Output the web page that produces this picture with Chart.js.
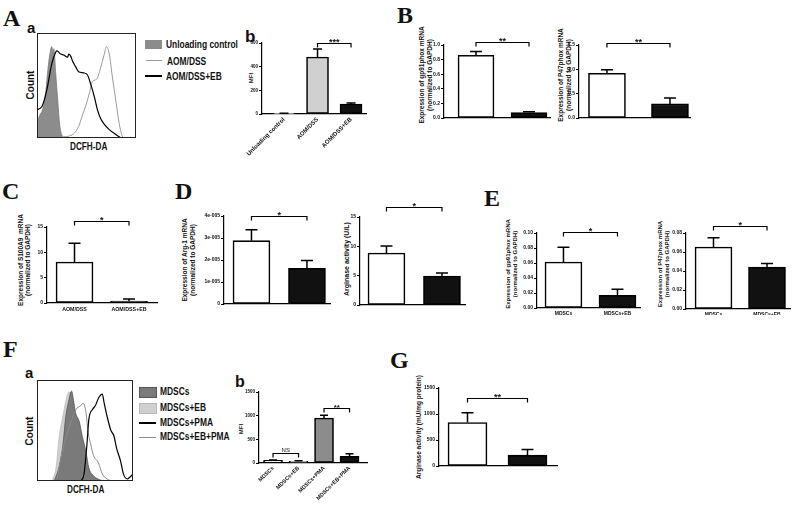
<!DOCTYPE html>
<html><head><meta charset="utf-8">
<script src="https://cdn.jsdelivr.net/npm/chart.js@4.4.0/dist/chart.umd.min.js"></script>
<style>
html,body{margin:0;padding:0;background:#fff}
#fig{position:relative;width:800px;height:505px;background:#fff;overflow:hidden;font-family:'Liberation Sans',Arial,sans-serif;color:#111}
.L{position:absolute;font:bold 24px 'Liberation Serif','Times New Roman',serif;line-height:1}
.s{position:absolute;font-weight:bold;line-height:1}
.lg{position:absolute;font-weight:bold;white-space:nowrap;transform-origin:left center}
.yt{position:absolute;font-weight:bold;white-space:nowrap;text-align:center;transform:translate(-50%,-50%) rotate(-90deg)}
.sw{position:absolute}
canvas{position:absolute}
</style></head>
<body><div id="fig">
<div class="L" style="left:3px;top:6px">A</div>
<div class="L" style="left:397px;top:3px">B</div>
<div class="L" style="left:2px;top:179px">C</div>
<div class="L" style="left:175px;top:179px">D</div>
<div class="L" style="left:484px;top:186px">E</div>
<div class="L" style="left:3px;top:337px">F</div>
<div class="L" style="left:390px;top:348px">G</div>
<div class="s" style="left:27px;top:20px;font-size:15px">a</div>
<div class="s" style="left:245px;top:28px;font-size:17px">b</div>
<div class="s" style="left:25px;top:365px;font-size:15px">a</div>
<div class="s" style="left:235px;top:374px;font-size:16px">b</div>

<!-- legend A -->
<div class="sw" style="left:145px;top:40px;width:17px;height:9px;background:#8c8c8c"></div>
<div class="lg" style="left:166px;top:39px;font-size:10.5px;line-height:10px;transform:scaleX(.8)">Unloading control</div>
<div class="sw" style="left:146px;top:60px;width:16px;height:1px;background:#9a9a9a"></div>
<div class="lg" style="left:167px;top:56px;font-size:10.5px;line-height:10px;transform:scaleX(.8)">AOM/DSS</div>
<div class="sw" style="left:145px;top:75px;width:17px;height:2px;background:#000"></div>
<div class="lg" style="left:166px;top:71px;font-size:10.5px;line-height:10px;transform:scaleX(.8)">AOM/DSS+EB</div>
<div class="yt" style="left:30px;top:85px;font-size:10px">Count</div>
<div class="lg" style="left:70px;top:142px;font-size:10px;line-height:10px;transform:scaleX(.82)">DCFH-DA</div>

<!-- legend F -->
<div class="sw" style="left:139px;top:387px;width:16px;height:9px;background:#7a7a7a;border:1px solid #555"></div>
<div class="lg" style="left:160px;top:387px;font-size:10px;line-height:10px;transform:scaleX(.84)">MDSCs</div>
<div class="sw" style="left:139px;top:403px;width:16px;height:9px;background:#cfcfcf;border:1px solid #bbb"></div>
<div class="lg" style="left:160px;top:403px;font-size:10px;line-height:10px;transform:scaleX(.84)">MDSCs+EB</div>
<div class="sw" style="left:139px;top:422px;width:17px;height:2px;background:#000"></div>
<div class="lg" style="left:160px;top:418px;font-size:10px;line-height:10px;transform:scaleX(.84)">MDSCs+PMA</div>
<div class="sw" style="left:139px;top:437px;width:17px;height:1px;background:#8a8a8a"></div>
<div class="lg" style="left:160px;top:432px;font-size:10px;line-height:10px;transform:scaleX(.84)">MDSCs+EB+PMA</div>
<div class="yt" style="left:29px;top:431px;font-size:10px">Count</div>
<div class="lg" style="left:67px;top:485px;font-size:10px;line-height:10px;transform:scaleX(.82)">DCFH-DA</div>

<!-- y titles -->
<div class="yt" style="left:251px;top:78px;font-size:6px">MFI</div>
<div class="yt" style="left:426px;top:75px;font-size:6.5px;line-height:8px">Expression of gp91phox mRNA<br>(normalized to GAPDH)</div>
<div class="yt" style="left:564.5px;top:75px;font-size:6.5px;line-height:8px">Expression of P47phox mRNA<br>(normalized to GAPDH)</div>
<div class="yt" style="left:23.5px;top:260px;font-size:6.5px;line-height:7px">Expression of S100A9&nbsp; mRNA<br>(normalized to GAPDH)</div>
<div class="yt" style="left:189px;top:260px;font-size:6.5px;line-height:8px">Expression of Arg-1 mRNA<br>(normalized to GAPDH)</div>
<div class="yt" style="left:346px;top:259px;font-size:7px">Arginase activity (U/L)</div>
<div class="yt" style="left:511.5px;top:264px;font-size:6px;line-height:7px">Expression of gp91phox mRNA<br>(normalized to GAPDH)</div>
<div class="yt" style="left:663.5px;top:264px;font-size:6px;line-height:7px">Expression of P47phox mRNA<br>(normalized to GAPDH)</div>
<div class="yt" style="left:241px;top:429px;font-size:6px">MFI</div>
<div class="yt" style="left:418px;top:427px;font-size:6.5px">Arginase activity (mU/mg protein)</div>
</div>
<script>
// ---------- DATA ----------
// Flow histograms (x: DCFH-DA channel 0-100, y: % of max count)
const histA_unloading = [[0,15],[3,22],[6,28],[9,45],[11,65],[13,80],[15,87],[16,80],[17,85],[19,60],[21,35],[23,12],[25,3],[28,0]];
const histA_aomdss = [[19,0],[25,1],[33,2],[38,5],[42,11],[46,22],[49,30],[53,43],[56,54],[58,55],[61,57],[64,66],[68,80],[70,87],[73,80],[76,59],[80,33],[83,14],[86,2],[88,0]];
const histA_aomdssEB = [[0,27],[5,30],[10,46],[15,71],[19,82],[20,83],[24,80],[27,79],[31,77],[32,80],[34,78],[36,73],[39,68],[42,63],[47,62],[51,60],[54,52],[58,39],[61,27],[64,19],[68,13],[73,8],[80,3],[85,0]];
const histF_mdsc = [[18,0],[23,14],[27,36],[30,64],[33,79],[36,89],[38,80],[40,68],[44,59],[47,45],[51,29],[54,13],[59,5],[66,1],[70,0]];
const histF_mdscEB = [[16,0],[20,14],[23,43],[27,64],[30,79],[33,88],[36,86],[39,71],[42,57],[46,39],[49,21],[52,7],[58,1],[60,0]];
const histF_mdscPMA = [[46,0],[49,7],[52,36],[54,61],[58,71],[61,75],[64,82],[68,86],[70,77],[73,64],[77,50],[80,45],[83,32],[87,20],[90,7],[94,2],[97,4],[100,7]];
const histF_mdscEBPMA = [[21,3],[28,36],[35,57],[40,70],[46,75],[48,77],[51,68],[53,50],[56,36],[59,25],[64,18],[68,7],[73,2],[78,0]];

// Bar panels: means and upper error-bar ends
const catsAb = ['Unloading control','AOM/DSS','AOM/DSS+EB'];
const mfiAb = [5, 482, 84];
const mfiAbTop = [7, 549, 93];
const catsAOM = ['AOM/DSS','AOM/DSS+EB'];
const gp91B = [0.86, 0.075];
const gp91BTop = [0.91, 0.085];
const p47B = [0.92, 0.29];
const p47BTop = [0.99, 0.41];
const s100a9C = [8.1, 0.4];
const s100a9CTop = [11.8, 0.8];
const arg1D = [2.88e-5, 1.62e-5];
const arg1DTop = [3.37e-5, 1.98e-5];
const argActD = [8.86, 4.94];
const argActDTop = [10.05, 5.45];
const catsMDSC = ['MDSCs','MDSCs+EB'];
const gp91E = [0.0613, 0.017];
const gp91ETop = [0.081, 0.025];
const p47E = [0.0653, 0.044];
const p47ETop = [0.075, 0.048];
const catsFb = ['MDSCs','MDSCs+EB','MDSCs+PMA','MDSCs+EB+PMA'];
const mfiFb = [57, 36, 951, 141];
const mfiFbTop = [66, 45, 1010, 198];
const argG = [835, 209];
const argGTop = [1025, 317];

// ---------- DRAWING ----------
const FONT = "'Liberation Sans', Arial, sans-serif";
Chart.defaults.font.family = FONT;
Chart.defaults.color = '#111';
const fig = document.getElementById('fig');

function mkCanvas(L,T,W,H){
  const cv=document.createElement('canvas');
  cv.width=W; cv.height=H;
  cv.style.cssText=`left:${L}px;top:${T}px;width:${W}px;height:${H}px`;
  fig.appendChild(cv);
  return cv;
}

const sigPlugin={id:'sig',afterDatasetsDraw(chart){
  const ctx=chart.ctx, xs=chart.scales.x, ys=chart.scales.y;
  const ds=chart.data.datasets[0], meta=chart.getDatasetMeta(0);
  ctx.save(); ctx.strokeStyle='#000'; ctx.lineWidth=1.5;
  ds.tops.forEach((e,i)=>{
    const x=meta.data[i].x, y0=ys.getPixelForValue(ds.data[i].y), y1=ys.getPixelForValue(e);
    ctx.beginPath(); ctx.moveTo(x,y0); ctx.lineTo(x,y1);
    ctx.moveTo(x-ds.capW/2,y1); ctx.lineTo(x+ds.capW/2,y1); ctx.stroke();
  });
  ctx.lineWidth=1.2;
  (ds.brackets||[]).forEach(([i,j,v,txt,fs,w])=>{
    const x1=xs.getPixelForValue(i), x2=xs.getPixelForValue(j), y=Math.round(ys.getPixelForValue(v))+0.5;
    ctx.beginPath(); ctx.moveTo(x1,y+4); ctx.lineTo(x1,y); ctx.lineTo(x2,y); ctx.lineTo(x2,y+4); ctx.stroke();
    ctx.fillStyle='#111'; ctx.font=`${w||'bold'} ${fs}px ${FONT}`; ctx.textAlign='center'; ctx.textBaseline='alphabetic';
    ctx.fillText(txt,(x1+x2)/2, txt==='NS'? y-2 : y+ (fs*0.2));
  });
  ctx.restore();
}};

function barChart(o){
  const [l,t,r,b]=o.area; const L=o.L??(l-32), T=t-18, W=o.W, H=o.H;
  const cv=mkCanvas(L,T,W,H);
  return new Chart(cv,{
    type:'bar',
    data:{datasets:[{data:o.vals.map((v,i)=>({x:i,y:v})),backgroundColor:o.colors,borderColor:'#000',borderWidth:1.6,
      borderSkipped:false,barThickness:o.barW,tops:o.tops,capW:o.capW,brackets:o.brackets}]},
    options:{responsive:false,animation:false,devicePixelRatio:1,
      layout:{padding:{left:0,top:t-T,right:L+W-r,bottom:0}},
      plugins:{legend:{display:false},tooltip:{enabled:false}},
      scales:{
        x:{type:'linear',offset:false,min:o.xr[0],max:o.xr[1],
          afterBuildTicks:s=>{s.ticks=o.cats.map((c,i)=>({value:i}));},
          afterFit:s=>{s.height=T+H-b;},
          ticks:{callback:v=>o.cats[v],autoSkip:false,minRotation:o.rot||0,maxRotation:o.rot||0,
            font:{size:o.catSize,weight:'bold'},color:'#111',padding:o.catPad??3},
          grid:{display:false,drawTicks:false,offset:false},border:{display:true,color:'#000',width:1.2}},
        y:{min:0,max:o.yMax,
          afterFit:s=>{s.width=l-L;},
          ticks:{stepSize:o.yStep,callback:o.fmt,font:{size:o.tickSize||5,weight:'bold'},color:'#111',padding:1},
          grid:{drawOnChartArea:false,drawTicks:true,tickLength:3,color:'#000',lineWidth:1},
          border:{display:true,color:'#000',width:1.2}}
      }},
    plugins:[sigPlugin]
  });
}

const boxPlugin={id:'box',afterDraw(chart){
  const a=chart.chartArea, ctx=chart.ctx;
  ctx.save(); ctx.strokeStyle='#222'; ctx.lineWidth=1;
  ctx.strokeRect(a.left+0.5,a.top+0.5,a.width-1,a.height-1);
  ctx.restore();
}};

function histChart(L,T,W,H,sets){
  const cv=mkCanvas(L,T,W,H);
  return new Chart(cv,{type:'line',
    data:{datasets:sets.map(s=>({data:s.pts.map(([x,y])=>({x,y})),borderColor:s.line,borderWidth:s.w,
      backgroundColor:s.fill||'rgba(0,0,0,0)',fill:s.fill?'origin':false,pointRadius:0,cubicInterpolationMode:'monotone'}))},
    options:{responsive:false,animation:false,devicePixelRatio:1,layout:{padding:0},
      plugins:{legend:{display:false},tooltip:{enabled:false}},
      scales:{x:{type:'linear',min:0,max:100,display:false},y:{min:0,max:100,display:false}}},
    plugins:[boxPlugin]});
}

const dec=n=>v=>v.toFixed(n);
const W='#ffffff', K='#111111';

// A-a histogram (first dataset drawn on top)
histChart(37,33,99,105,[
  {pts:histA_aomdssEB,line:'#000',w:1.2},
  {pts:histA_aomdss,line:'#9a9a9a',w:1},
  {pts:histA_unloading,line:'#777',w:0.8,fill:'#8c8c8c'}
]);
// F-a histogram
histChart(37,380,96,101,[
  {pts:histF_mdscPMA,line:'#000',w:1.2},
  {pts:histF_mdscEBPMA,line:'#8a8a8a',w:1},
  {pts:histF_mdsc,line:'#555',w:0.8,fill:'#7a7a7a'},
  {pts:histF_mdscEB,line:'#bbb',w:0.8,fill:'#cfcfcf'}
]);

// A-b
barChart({area:[262,43,366,114],W:160,H:150,cats:catsAb,vals:mfiAb,tops:mfiAbTop,colors:[W,'#d0d0d0',K],
  xr:[-0.657,2.447],barW:22,capW:9,yMax:600,yStep:200,fmt:v=>v,tickSize:4.5,catSize:6,rot:45,catPad:2,
  brackets:[[1,2,600,'***',9]]});
// B left
barChart({area:[444,45,550,121],W:160,H:95,cats:catsAOM,vals:gp91B,tops:gp91BTop,colors:[W,K],
  xr:[-0.604,1.396],barW:36,capW:12,yMax:1.0,yStep:0.2,fmt:dec(1),catSize:5.3,
  brackets:[[0,1,1.04,'**',9]]});
// B right
barChart({area:[579,45,690,122],W:150,H:95,cats:catsAOM,vals:p47B,tops:p47BTop,colors:[W,K],
  xr:[-0.444,1.318],barW:37,capW:12,yMax:1.5,yStep:0.5,fmt:dec(1),catSize:5.3,
  brackets:[[0,1,1.54,'**',9]]});
// C
barChart({area:[47,227,157,303],L:22,W:170,H:105,cats:catsAOM,vals:s100a9C,tops:s100a9CTop,colors:[W,K],
  xr:[-0.505,1.514],barW:37,capW:12,yMax:15,yStep:5,fmt:v=>v,catSize:5.3,
  brackets:[[0,1,16.1,'*',9]]});
// D left
barChart({area:[224,216,330,305],W:175,H:110,cats:catsAOM,vals:arg1D,tops:arg1DTop,colors:[W,K],
  xr:[-0.495,1.415],barW:37,capW:12,yMax:4e-5,yStep:1e-5,fmt:v=>{const n=Math.round(v*1e5);return n===0?'0':n+'e-005';},catSize:7,
  brackets:[[0,1,4.0e-5,'*',9]]});
// D right
barChart({area:[360,217,465,305],W:150,H:110,cats:catsAOM,vals:argActD,tops:argActDTop,colors:[W,K],
  xr:[-0.477,1.415],barW:37,capW:12,yMax:15,yStep:5,fmt:v=>v,catSize:5.3,
  brackets:[[0,1,16.7,'*',9]]});
// E left
barChart({area:[537,233,640,308],W:160,H:100,cats:catsMDSC,vals:gp91E,tops:gp91ETop,colors:[W,K],
  xr:[-0.49,1.417],barW:37,capW:12,yMax:0.10,yStep:0.02,fmt:dec(2),catSize:5,
  brackets:[[0,1,0.101,'*',9]]});
// E right
barChart({area:[686,233,790,309],W:140,H:100,cats:catsMDSC,vals:p47E,tops:p47ETop,colors:[W,K],
  xr:[-0.514,1.43],barW:37,capW:12,yMax:0.08,yStep:0.02,fmt:dec(2),catSize:5,
  brackets:[[0,1,0.087,'*',9]]});
// F-b
barChart({area:[259,392,367,463],W:150,H:131,cats:catsFb,vals:mfiFb,tops:mfiFbTop,colors:[W,'#ececec','#8c8c8c',K],
  xr:[-0.55,3.685],barW:19,capW:8,yMax:1500,yStep:500,fmt:v=>v,tickSize:4.5,catSize:5.5,rot:45,catPad:2,
  brackets:[[0,1,220,'NS',6,'normal'],[2,3,1170,'**',8]]});
// G
barChart({area:[439,388,557,467],W:160,H:100,cats:catsMDSC,vals:argG,tops:argGTop,colors:[W,K],
  xr:[-0.475,1.492],barW:39,capW:12,yMax:1500,yStep:500,fmt:v=>v,catSize:5,
  brackets:[[0,1,1310,'**',9]]});
</script>
</body></html>
